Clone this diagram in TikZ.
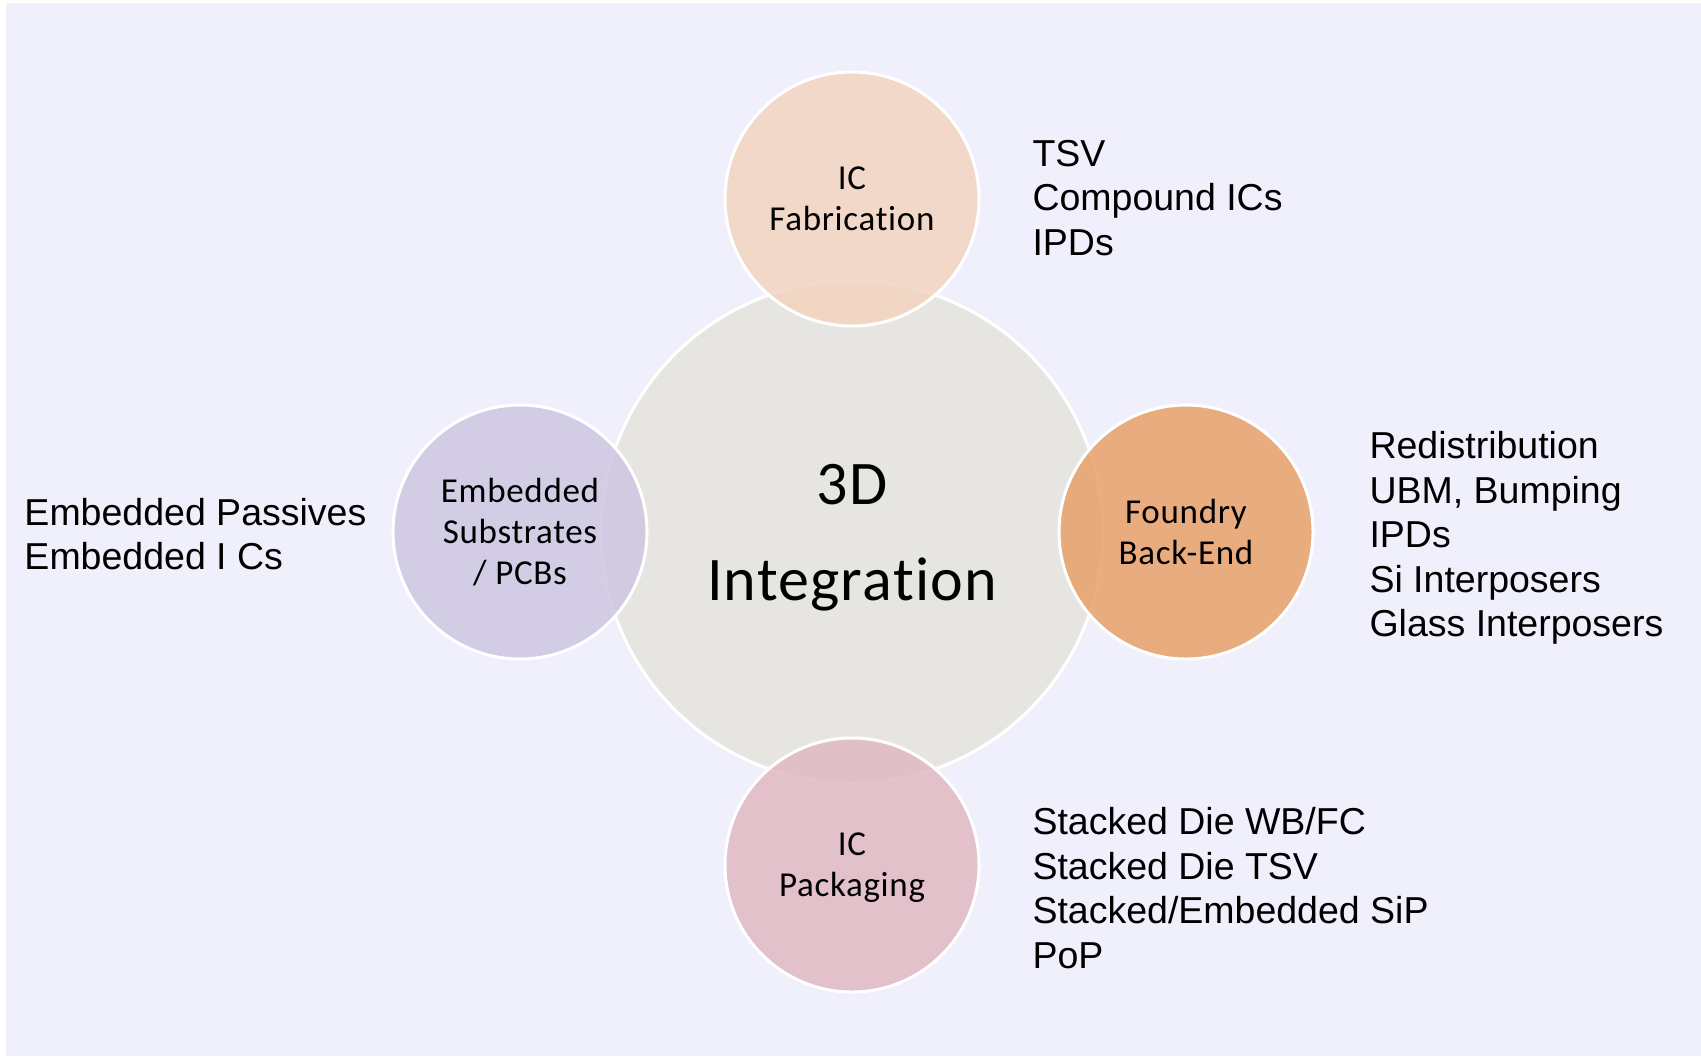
\documentclass[tikz,border=0pt]{standalone}
\usepackage{fontspec}
\setmainfont{Liberation Sans}
\newfontfamily\calib[Ligatures=NoCommon,LetterSpace=2]{Carlito}
\definecolor{bglav}{RGB}{240,240,253}
\definecolor{coregray}{RGB}{231,229,225}
\definecolor{fabpeach}{RGB}{243,212,191}
\definecolor{bendorange}{RGB}{231,161,106}
\definecolor{sublilac}{RGB}{207,198,225}
\definecolor{pkgrose}{RGB}{224,185,194}
\begin{document}
\begin{tikzpicture}[x=0.5pt,y=-0.5pt,line width=1.5pt]
    \tikzstyle{core}=[circle, draw=white, fill=coregray, minimum size=251pt, inner sep=0pt, align=center, font=\calib\fontsize{31}{48}\selectfont]
    \tikzstyle{petal}=[circle, draw=white, fill opacity=0.85, text opacity=1, minimum size=127pt, inner sep=0pt, align=center, font=\calib\fontsize{17.5}{20.5}\selectfont]
    \tikzstyle{items}=[anchor=west, inner sep=0pt, align=left, font=\fontsize{18.75}{22.25}\selectfont]

    \useasboundingbox (0,0) rectangle (1701,1056);
    \fill[bglav] (6,3) rectangle (1701,1056);

    \node[core] (core) at (852,532) {3D\\\smash{Integration}};
    \node[petal, fill=fabpeach] (fab) at (852,199) {IC\\Fabrication};
    \node[petal, fill=bendorange] (bend) at (1186,532) {Foundry\\Back-End};
    \node[petal, fill=pkgrose] (pkg) at (852,865) {IC\\\smash{Packaging}};
    \node[petal, fill=sublilac] (sub) at (520,532) {Embedded\\Substrates\\/ PCBs};

    \node[items] (fabitems) at (1031,198) {TSV\\Compound ICs\\IPDs};
    \node[items] (benditems) at (1368,538) {Redistribution\\UBM, Bumping\\IPDs\\Si Interposers\\Glass Interposers};
    \node[items] (pkgitems) at (1031,888) {Stacked Die WB/FC\\Stacked Die TSV\\Stacked/Embedded SiP\\PoP};
    \node[items] (subitems) at (23,534) {Embedded Passives\\Embedded I Cs};
\end{tikzpicture}
\end{document}
